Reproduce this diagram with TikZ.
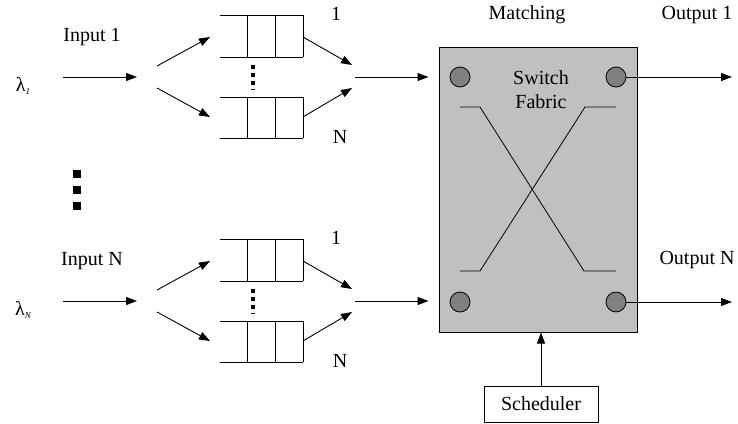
\documentclass[tikz,border=0pt]{standalone}
\usepackage{fontspec}
\setmainfont{Liberation Serif}
\usetikzlibrary{arrows.meta}
\definecolor{fabric}{RGB}{192,192,192}
\definecolor{portc}{RGB}{128,128,128}
\newcommand{\lamsub}[1]{λ{\fontsize{9}{9}\selectfont\itshape\raisebox{-3pt}{#1}}}
\tikzset{
  lbl/.style={font=\fontsize{20}{23}\selectfont, inner sep=0pt},
  arr/.style={line width=0.9pt, -{Triangle[length=11pt,width=8pt]}},
  qline/.style={line width=1pt},
  port/.style={circle, draw, fill=portc, minimum size=20pt, inner sep=0pt, line width=0.8pt},
  xline/.style={line width=0.8pt},
  sqdot/.style={fill=black, minimum size=8pt, inner sep=0pt}
}
\begin{document}
\begin{tikzpicture}[x=1pt,y=-1pt]
\useasboundingbox (0,0) rectangle (738,423);

% ---------- input groups ----------
\foreach \g/\lab/\lam/\dy in {a/Input 1/1/0, b/Input N/N/224} {
  \begin{scope}[yshift=-\dy pt]
    \node[lbl] (lam\g) at (23,86) {\lamsub{\lam}};
    \node[lbl] (in\g) at (92,37) {\lab};
    \coordinate (s\g) at (63,77);
    \coordinate (e\g) at (137,77);
    \draw[arr] (s\g) -- (e\g);
    \coordinate (fu\g) at (157,66);
    \coordinate (fl\g) at (157,88);
    \coordinate (qt\g) at (210,37);
    \coordinate (qb\g) at (210,117);
    \draw[arr] (fu\g) -- (qt\g);
    \draw[arr] (fl\g) -- (qb\g);
    % queue 1
    \draw[qline] (220,15) -- (303,15) (220,57) -- (303,57)
                 (247,15) -- (247,57) (275,15) -- (275,57) (303,15) -- (303,57);
    % queue N
    \draw[qline] (220,97) -- (303,97) (220,138) -- (303,138)
                 (247,97) -- (247,138) (275,97) -- (275,138) (303,97) -- (303,138);
    \draw[line width=3.5pt, dash pattern=on 3.5pt off 4.5pt] (253,65) -- (253,90);
    \node[lbl] (one\g) at (336,14) {1};
    \node[lbl] (nn\g) at (340,137) {N};
    \coordinate (qo1\g) at (303,37);
    \coordinate (qo2\g) at (303,117);
    \coordinate (m1\g) at (352,65);
    \coordinate (m2\g) at (352,88);
    \draw[arr] (qo1\g) -- (m1\g);
    \draw[arr] (qo2\g) -- (m2\g);
  \end{scope}
}

% big dots between groups
\node[sqdot] (d1) at (77,173.5) {};
\node[sqdot] (d2) at (77,190) {};
\node[sqdot] (d3) at (77,206) {};

% ---------- switch ----------
\node[draw, fill=fabric, line width=1pt, minimum width=198pt, minimum height=285pt, inner sep=0pt] (sw) at (538,189.5) {};
\node[port] (p1) at (460,77) {};
\node[port] (p2) at (616,77) {};
\node[port] (p3) at (460,302) {};
\node[port] (p4) at (616,302) {};
\draw[xline] (460,107) -- (480,107) -- (584,271) -- (616,271);
\draw[xline] (616,107) -- (585,107) -- (480,271) -- (460,271);
\node[lbl, align=center] (sf) at (541,90) {Switch\\[1pt]Fabric};
\node[lbl] (match) at (527,15) {Matching};
\node[lbl] (out1) at (697,15) {Output 1};
\node[lbl] (outN) at (697,260) {Output N};

\coordinate (ia) at (355,77);
\coordinate (ib) at (355,301);
\draw[arr] (ia) -- ([xshift=-10pt]sw.west |- ia);
\draw[arr] (ib) -- ([xshift=-10pt]sw.west |- ib);

\coordinate (o1) at (732,77);
\coordinate (o2) at (732,302);
\draw[arr] (p2.east) -- (o1);
\draw[arr] (p4.east) -- (o2);

\node[draw, lbl, line width=0.9pt, minimum width=114pt, minimum height=36pt] (sched) at (541,404) {Scheduler};
\draw[arr] (sched.north) -- (sched.north |- sw.south);
\end{tikzpicture}
\end{document}
